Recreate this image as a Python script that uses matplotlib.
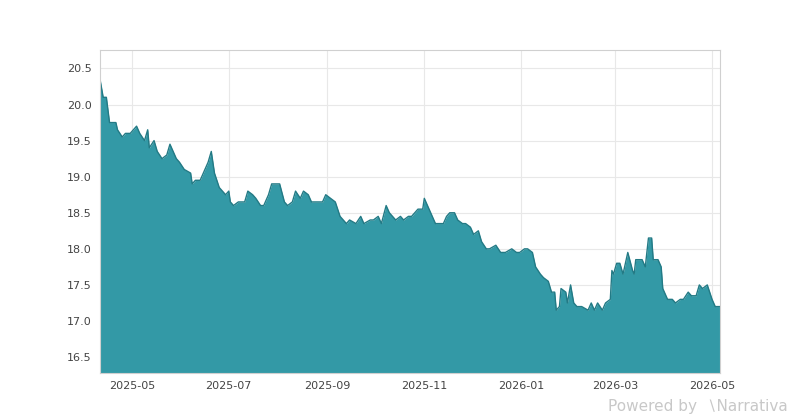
import numpy as np
import pandas as pd
import matplotlib
matplotlib.use("Agg")
import matplotlib.pyplot as plt
import matplotlib.dates as mdates

# day offsets from the first date, and the value
start = pd.Timestamp("2025-04-11")
days = [0, 2, 4, 6, 10, 11, 14, 16, 19, 21, 23, 25, 28, 30, 31, 34, 36, 39, 42, 44,
        45, 48, 50, 53, 57, 58, 60, 63, 65, 68, 70, 72, 75, 79, 81, 82, 84, 87, 91, 93,
        96, 98, 101, 103, 106, 108, 111, 113, 116, 118, 121, 123, 126, 128, 131, 133, 136, 140, 142, 145,
        148, 151, 155, 157, 161, 164, 166, 170, 172, 175, 177, 180, 182, 186, 189, 191, 194, 196, 200, 203,
        204, 206, 209, 211, 214, 216, 218, 220, 223, 225, 228, 230, 233, 235, 238, 240, 243, 245, 249, 252,
        255, 259, 262, 264, 267, 269, 272, 274, 277, 279, 282, 284, 286, 287, 289, 290, 293, 294, 296, 298,
        300, 303, 307, 309, 311, 313, 316, 318, 321, 322, 323, 325, 327, 329, 331, 332, 335, 336, 337, 340,
        341, 343, 345, 347, 348, 351, 353, 354, 357, 360, 362, 365, 367, 370, 372, 375, 377, 379, 382, 385,
        387, 390]
values = [20.35, 20.1, 20.1, 19.75, 19.75, 19.65, 19.55, 19.6, 19.6, 19.65, 19.7, 19.6, 19.5, 19.65, 19.4, 19.5, 19.35, 19.25, 19.3, 19.45,
          19.4, 19.25, 19.2, 19.1, 19.05, 18.9, 18.95, 18.95, 19.05, 19.2, 19.35, 19.05, 18.85, 18.75, 18.8, 18.65, 18.6, 18.65, 18.65, 18.8,
          18.75, 18.7, 18.6, 18.6, 18.75, 18.9, 18.9, 18.9, 18.65, 18.6, 18.65, 18.8, 18.7, 18.8, 18.75, 18.65, 18.65, 18.65, 18.75, 18.7,
          18.65, 18.45, 18.35, 18.4, 18.35, 18.45, 18.35, 18.4, 18.4, 18.45, 18.35, 18.6, 18.5, 18.4, 18.45, 18.4, 18.45, 18.45, 18.55, 18.55,
          18.7, 18.6, 18.45, 18.35, 18.35, 18.35, 18.45, 18.5, 18.5, 18.4, 18.35, 18.35, 18.3, 18.2, 18.25, 18.1, 18.0, 18.0, 18.05, 17.95,
          17.95, 18.0, 17.95, 17.95, 18.0, 18.0, 17.95, 17.75, 17.65, 17.6, 17.55, 17.4, 17.4, 17.15, 17.2, 17.45, 17.4, 17.25, 17.5, 17.25,
          17.2, 17.2, 17.15, 17.25, 17.15, 17.25, 17.15, 17.25, 17.3, 17.7, 17.65, 17.8, 17.8, 17.65, 17.85, 17.95, 17.7, 17.65, 17.85, 17.85,
          17.85, 17.75, 18.15, 18.15, 17.85, 17.85, 17.75, 17.45, 17.3, 17.3, 17.25, 17.3, 17.3, 17.4, 17.35, 17.35, 17.5, 17.45, 17.5, 17.3,
          17.2, 17.2]

dates = start + pd.to_timedelta(days, unit="D")
ymin, ymax = 16.28, 20.75

fig = plt.figure(figsize=(8, 4.2), dpi=100)
ax = fig.add_axes([0.125, 0.112, 0.775, 0.768])
ax.fill_between(dates, values, ymin, color="#3399a6", linewidth=0)
ax.plot(dates, values, color="#237a85", linewidth=1)

ax.set_xlim(dates[0], dates[-1])
ax.set_ylim(ymin, ymax)
ax.set_yticks(np.arange(16.5, 20.6, 0.5))
ax.yaxis.set_major_formatter(plt.FormatStrFormatter("%.1f"))
ax.xaxis.set_major_locator(mdates.MonthLocator(bymonth=[1, 3, 5, 7, 9, 11]))
ax.xaxis.set_major_formatter(mdates.DateFormatter("%Y-%m"))
ax.grid(True, color="#e8e8e8", linewidth=0.8)
ax.set_axisbelow(True)
ax.tick_params(labelsize=8, colors="#444444", length=0, pad=6)
for s in ax.spines.values():
    s.set_color("#d0d0d0")

fig.text(0.985, 0.015, "Powered by  \u2216Narrativa", ha="right", va="bottom",
         fontsize=11, color="#c8c8c8")

fig.savefig("out.png")
